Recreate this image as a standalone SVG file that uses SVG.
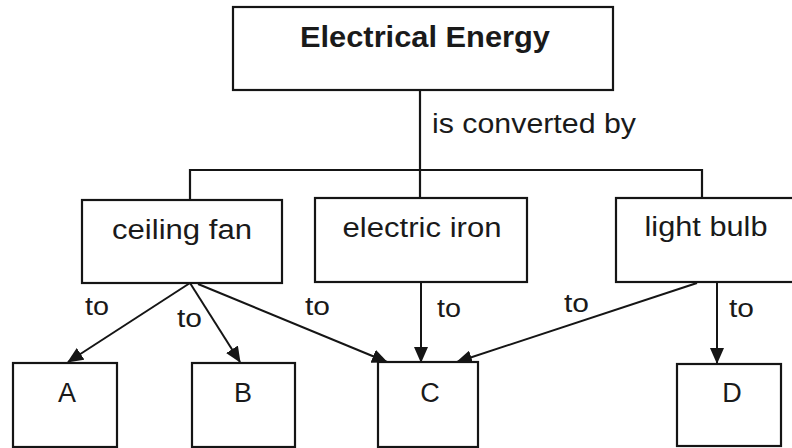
<svg xmlns="http://www.w3.org/2000/svg" width="792" height="448" viewBox="0 0 792 448">
<defs>
<style>
.box{fill:#fff;stroke:#151515;stroke-width:2.2}
.lbl{font-family:"Liberation Sans",Arial,sans-serif;font-size:27px;fill:#1a1a1a;text-anchor:middle}
.big{font-family:"Liberation Sans",Arial,sans-serif;font-size:29px;font-weight:bold;fill:#1a1a1a;text-anchor:middle}
.to{font-family:"Liberation Sans",Arial,sans-serif;font-size:25px;fill:#1a1a1a}
.ln{fill:none;stroke:#151515;stroke-width:2.2}
.arr{fill:none;stroke:#151515;stroke-width:2;marker-end:url(#ah)}
</style>
<marker id="ah" markerUnits="userSpaceOnUse" markerWidth="16" markerHeight="14" viewBox="0 0 16 14" refX="15" refY="7" orient="auto">
<path d="M0,0 L16,7 L0,14 Z" fill="#151515"/>
</marker>
</defs>
<rect width="792" height="448" fill="#fff"/>
<g id="connectors">
<path class="ln" d="M420,90 V170"/>
<path class="ln" d="M190,200 V170 H702 V198"/>
<path class="ln" d="M420,170 V198"/>
<path class="arr" d="M190,283 L68,362"/>
<path class="arr" d="M190,283 L240,362"/>
<path class="arr" d="M198,284 L387,362"/>
<path class="arr" d="M421,282 L421,362"/>
<path class="arr" d="M697,283 L457,362"/>
<path class="arr" d="M717,282 L717,363"/>
<text class="to" x="85" y="315" textLength="24" lengthAdjust="spacingAndGlyphs">to</text>
<text class="to" x="177" y="327" textLength="25" lengthAdjust="spacingAndGlyphs">to</text>
<text class="to" x="305" y="315" textLength="25" lengthAdjust="spacingAndGlyphs">to</text>
<text class="to" x="437" y="317" textLength="24" lengthAdjust="spacingAndGlyphs">to</text>
<text class="to" x="564" y="312" textLength="25" lengthAdjust="spacingAndGlyphs">to</text>
<text class="to" x="729" y="317" textLength="25" lengthAdjust="spacingAndGlyphs">to</text>
<text class="lbl" x="432" y="133" style="text-anchor:start" textLength="204" lengthAdjust="spacingAndGlyphs">is converted by</text>
</g>
<g id="electrical-energy">
<rect class="box" x="233" y="7" width="380" height="83"/>
<text class="big" x="425" y="47" textLength="250" lengthAdjust="spacingAndGlyphs">Electrical Energy</text>
</g>
<g id="ceiling-fan">
<rect class="box" x="82" y="200" width="200" height="83"/>
<text class="lbl" x="182" y="239" textLength="140" lengthAdjust="spacingAndGlyphs">ceiling fan</text>
</g>
<g id="electric-iron">
<rect class="box" x="315" y="198" width="212" height="84"/>
<text class="lbl" x="422" y="237" textLength="159" lengthAdjust="spacingAndGlyphs">electric iron</text>
</g>
<g id="light-bulb">
<rect class="box" x="616" y="198" width="180" height="84"/>
<text class="lbl" x="706" y="236" textLength="123" lengthAdjust="spacingAndGlyphs">light bulb</text>
</g>
<g id="A">
<rect class="box" x="13" y="363" width="104" height="84"/>
<text class="lbl" x="67" y="402" style="font-size:27px">A</text>
</g>
<g id="B">
<rect class="box" x="192" y="363" width="103" height="84"/>
<text class="lbl" x="243" y="402" style="font-size:27px">B</text>
</g>
<g id="C">
<rect class="box" x="378" y="362" width="100" height="85"/>
<text class="lbl" x="430" y="402" style="font-size:27px">C</text>
</g>
<g id="D">
<rect class="box" x="677" y="364" width="104" height="82"/>
<text class="lbl" x="732" y="402" style="font-size:27px">D</text>
</g>
</svg>
